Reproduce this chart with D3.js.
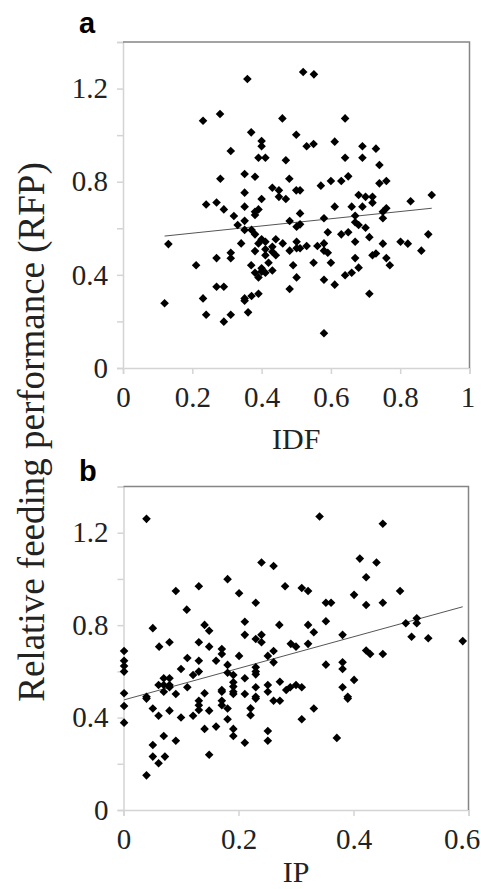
<!DOCTYPE html>
<head>
  <meta charset="utf-8">
  <script src="https://d3js.org/d3.v7.min.js"></script>
  <style>
body {
	margin:0;
	background:#fff;
	}
.tick text {
	font-family: "Liberation Serif", "Times New Roman", serif;
	font-size: 29px;
	fill: #222;
	}
.title {
	font-family: "Liberation Serif", "Times New Roman", serif;
	font-size: 30px;
	fill: #222;
	}
.ytitle {
	font-family: "Liberation Serif", "Times New Roman", serif;
	font-size: 37px;
	fill: #222;
	}
.panel {
	font-family: "Liberation Sans", Arial, sans-serif;
	font-weight: bold;
	font-size: 29px;
	}
  </style>
</head>

<body>
  <div id="graph"></div>
<script>
// panel a: IDF vs RFP
var idf = [0.359,0.231,0.280,0.460,0.370,0.400,0.400,0.311,0.391,0.411,0.470,0.281,0.351,0.381,0.480,0.351,0.431,0.450,0.450,0.400,0.470,0.270,
  0.520,0.551,0.641,0.500,0.530,0.550,0.611,0.691,0.730,0.641,0.691,0.740,0.650,0.630,0.600,0.571,0.740,0.760,0.500,0.511,0.680,0.700,0.720,0.891,0.830,
  0.720,0.611,0.660,0.691,0.760,0.750,0.511,0.670,0.580,0.750,0.481,0.511,0.501,0.670,0.680,0.700,0.591,0.630,0.650,0.711,0.881,0.670,0.461,0.501,0.530,
  0.561,0.580,0.750,0.801,0.822,0.481,0.501,0.511,0.580,0.591,0.720,0.730,0.861,0.670,0.760,0.550,0.600,0.491,0.770,0.680,0.660,0.641,0.501,0.580,0.611,
  0.481,0.711,0.580,
  0.240,0.291,0.351,0.381,0.391,0.381,0.320,0.351,0.331,0.351,0.371,0.381,0.400,0.411,0.391,0.341,0.441,0.431,0.411,0.431,0.441,0.381,0.411,0.131,0.311,
  0.311,0.270,0.420,0.370,0.431,0.400,0.400,0.381,0.391,0.411,0.211,0.270,0.291,0.231,0.351,0.351,0.371,0.391,0.120,0.240,0.311,0.361,0.291];
var rfpA = [1.241,1.062,1.091,1.072,1.012,0.975,0.952,0.932,0.903,0.903,0.892,0.813,0.833,0.821,0.813,0.753,0.774,0.763,0.735,0.726,0.726,0.711,
  1.271,1.261,1.072,1.002,0.952,0.962,0.972,0.952,0.942,0.903,0.903,0.872,0.823,0.803,0.803,0.783,0.793,0.803,0.763,0.763,0.743,0.735,0.735,0.743,0.716,
  0.710,0.693,0.693,0.693,0.686,0.671,0.664,0.654,0.643,0.643,0.631,0.617,0.607,0.626,0.614,0.602,0.583,0.574,0.583,0.562,0.574,0.542,0.535,0.542,0.524,
  0.524,0.535,0.534,0.542,0.534,0.504,0.514,0.514,0.504,0.495,0.484,0.492,0.504,0.472,0.472,0.452,0.452,0.441,0.441,0.431,0.409,0.398,0.389,0.379,0.358,
  0.339,0.319,0.149,
  0.702,0.681,0.693,0.671,0.681,0.657,0.653,0.632,0.614,0.593,0.593,0.574,0.553,0.542,0.535,0.535,0.553,0.521,0.510,0.499,0.484,0.502,0.484,0.532,0.495,
  0.471,0.472,0.452,0.441,0.419,0.428,0.414,0.409,0.389,0.409,0.441,0.349,0.349,0.299,0.299,0.289,0.309,0.319,0.278,0.229,0.229,0.239,0.199];

// panel b: IP vs RFP
var ip = [0.040,0.240,0.261,0.181,0.091,0.131,0.281,0.201,0.110,0.230,0.051,0.141,0.149,0.211,0.271,0.211,0.230,0.240,
  0.341,0.451,0.411,0.440,0.422,0.310,0.321,0.401,0.422,0.451,0.481,0.352,0.361,0.352,0.321,0.331,0.381,0.491,0.510,0.510,0.501,0.530,0.590,
  0.291,0.300,0.321,0.422,0.429,0.451,0.352,0.381,0.381,0.401,0.272,0.283,0.290,0.300,0.310,0.381,0.390,0.390,0.272,0.331,0.310,0.371,
  0.240,0.001,0.001,0.001,0.001,0.062,0.080,0.131,0.149,0.171,0.171,0.161,0.111,0.131,0.201,0.251,0.261,0.261,0.100,0.131,0.121,0.181,
  0.181,0.191,0.191,0.191,0.191,0.191,0.211,0.230,0.230,0.230,0.070,0.080,0.061,0.070,0.070,0.080,0.080,0.091,0.111,0.001,0.001,0.001,
  0.040,0.040,0.051,0.061,0.080,0.100,0.121,0.131,0.131,0.131,0.141,0.149,0.171,0.171,0.171,0.171,0.181,0.181,0.191,0.191,0.211,0.211,
  0.221,0.221,0.230,0.230,0.230,0.251,0.251,0.251,0.251,0.261,0.141,0.161,0.070,0.091,0.051,0.051,0.072,0.061,0.149,0.040];
var rfpB = [1.260,1.071,1.056,0.999,0.948,0.968,0.968,0.938,0.867,0.897,0.787,0.801,0.776,0.815,0.801,0.758,0.740,0.758,
  1.270,1.239,1.088,1.071,1.007,0.961,0.948,0.931,0.887,0.897,0.948,0.897,0.897,0.817,0.801,0.769,0.758,0.808,0.830,0.808,0.750,0.743,0.731,
  0.719,0.707,0.719,0.690,0.675,0.675,0.629,0.639,0.610,0.563,0.555,0.519,0.531,0.541,0.531,0.531,0.490,0.482,0.473,0.439,0.393,0.312,
  0.726,0.688,0.646,0.623,0.599,0.707,0.726,0.726,0.707,0.697,0.675,0.646,0.658,0.646,0.667,0.667,0.688,0.639,0.610,0.599,0.584,0.628,
  0.594,0.584,0.553,0.534,0.512,0.502,0.570,0.618,0.599,0.587,0.570,0.570,0.541,0.541,0.512,0.541,0.531,0.502,0.531,0.505,0.450,0.378,
  0.490,0.482,0.439,0.408,0.430,0.400,0.408,0.453,0.433,0.473,0.505,0.430,0.519,0.512,0.473,0.453,0.439,0.393,0.351,0.320,0.502,0.291,
  0.440,0.410,0.531,0.490,0.482,0.541,0.512,0.342,0.300,0.473,0.351,0.361,0.320,0.300,0.281,0.231,0.231,0.202,0.239,0.150];

// linear fits: [intercept, slope]
var fitA = [0.548, 0.155];
var fitB = [0.476, 0.684];

var yTicks = [0, 0.2, 0.4, 0.6, 0.8, 1.0, 1.2, 1.4];
var yLabels = [0, 0.4, 0.8, 1.2];
var xTicksA = [0, 0.2, 0.4, 0.6, 0.8, 1];
var xTicksB = [0, 0.2, 0.4, 0.6];

var svg = d3.select("#graph")
  .append("svg")
  .attr("width", 481)
  .attr("height", 889);

var diamond = "M0,-4.3L4.3,0L0,4.3L-4.3,0Z";

function panel(o) {
  var x = d3.scaleLinear().domain(o.xDomain).range([o.left, o.right]);
  var y = d3.scaleLinear().domain([0, 1.4]).range([o.bottom, o.top]);

  // y axis
  var ya = svg.append("g")
    .attr("transform", "translate(" + o.left + ",0)")
    .call(d3.axisLeft(y)
      .tickValues(yTicks)
      .tickSize(6)
      .tickPadding(9)
      .tickFormat(function(d) { return yLabels.indexOf(+d.toFixed(1)) >= 0 ? d3.format("")(+d.toFixed(1)) : ""; }));
  ya.select(".domain").attr("stroke", "#d4d4d4").attr("stroke-width", 1.5);
  ya.selectAll(".tick line").attr("stroke", "#d4d4d4").attr("stroke-width", 1.5);

  // x axis
  var xa = svg.append("g")
    .attr("transform", "translate(0," + o.bottom + ")")
    .call(d3.axisBottom(x)
      .tickValues(o.xTicks)
      .tickSize(6)
      .tickPadding(12)
      .tickFormat(d3.format("")));
  xa.select(".domain").attr("stroke", "#d4d4d4").attr("stroke-width", 1.5);
  xa.selectAll(".tick line").attr("stroke", "#d4d4d4").attr("stroke-width", 1.5);
  // last label pulled in so it stays inside the page
  xa.selectAll(".tick text").filter(function(d) { return d === o.xTicks[o.xTicks.length - 1]; })
    .attr("dx", o.lastShift);

  // top and right frame
  svg.append("path")
    .attr("d", "M" + o.left + "," + o.top + "H" + o.right + "V" + o.bottom)
    .attr("fill", "none")
    .attr("stroke", "#858585")
    .attr("stroke-width", 1.5);

  // trend line
  var ext = d3.extent(o.xs);
  svg.append("line")
    .attr("x1", x(ext[0])).attr("y1", y(o.fit[0] + o.fit[1] * ext[0]))
    .attr("x2", x(ext[1])).attr("y2", y(o.fit[0] + o.fit[1] * ext[1]))
    .attr("stroke", "#555")
    .attr("stroke-width", 1);

  // points
  svg.append("g").selectAll("path")
    .data(o.xs.map(function(d, i) { return [d, o.ys[i]]; }))
    .enter().append("path")
      .attr("d", diamond)
      .attr("transform", function(d) { return "translate(" + x(d[0]) + "," + y(d[1]) + ")"; })
      .attr("fill", "#000");

  // axis title
  svg.append("text")
    .attr("class", "title")
    .attr("x", (o.left + o.right) / 2)
    .attr("y", o.titleY)
    .attr("text-anchor", "middle")
    .text(o.title);

  // panel letter
  svg.append("text")
    .attr("class", "panel")
    .attr("x", 79)
    .attr("y", o.letterY)
    .text(o.letter);
}

panel({xDomain: [0, 1], xTicks: xTicksA, left: 123, right: 469.5, top: 42, bottom: 368, lastShift: -2,
  xs: idf, ys: rfpA, fit: fitA, title: "IDF", titleY: 449, letter: "a", letterY: 33});
panel({xDomain: [0, 0.6], xTicks: xTicksB, left: 123.5, right: 468.5, top: 486.5, bottom: 810, lastShift: -7,
  xs: ip, ys: rfpB, fit: fitB, title: "IP", titleY: 882, letter: "b", letterY: 481});

// shared y label
svg.append("text")
  .attr("class", "ytitle")
  .attr("transform", "translate(44,432) rotate(-90)")
  .attr("text-anchor", "middle")
  .text("Relative feeding performance (RFP)");
</script>
</body>
